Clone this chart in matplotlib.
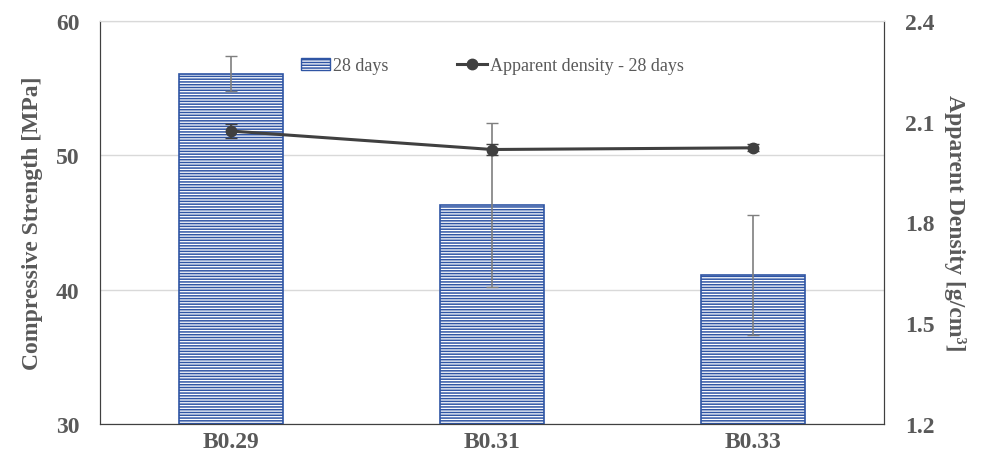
import matplotlib.pyplot as plt
from matplotlib.lines import Line2D
from matplotlib.patches import Patch

# Datos
mezclas = ['B0.29', 'B0.31', 'B0.33']
resistencia = [56.05, 46.3, 41.1]
err_resistencia = [1.3, 6.1, 4.45]
densidad = [2.072, 2.017, 2.022]
err_densidad = [0.02, 0.017, 0.01]

plt.rcParams['font.family'] = ['Liberation Serif', 'DejaVu Serif']
plt.rcParams['hatch.linewidth'] = 1.1
gris = '#595959'
azul = '#2F55A4'
tam = 17

fig, ax1 = plt.subplots(figsize=(9.82, 4.64), dpi=100)
fig.subplots_adjust(left=0.102, right=0.9, top=0.953, bottom=0.084)

x = range(len(mezclas))
ax1.bar(x, resistencia, width=0.4, color='white', edgecolor=azul,
        hatch='------', linewidth=1.2, zorder=2)
ax1.errorbar(x, resistencia, yerr=err_resistencia, fmt='none',
             ecolor='#7f7f7f', elinewidth=1.2, capsize=4, zorder=3)
ax1.set_ylim(30, 60)
ax1.set_yticks([30, 40, 50, 60])
ax1.set_xlim(-0.5, 2.5)
ax1.set_xticks(list(x))
ax1.set_xticklabels(mezclas)
ax1.grid(axis='y', color='#d9d9d9', linewidth=1.0, zorder=0)
ax1.set_axisbelow(True)
ax1.set_ylabel('Compressive Strength [MPa]', fontsize=tam, fontweight='bold',
               color=gris, labelpad=9)
ax1.tick_params(axis='y', length=0, labelsize=tam, labelcolor=gris, pad=15)
ax1.tick_params(axis='x', length=0, labelsize=tam, labelcolor=gris, pad=5)
for lbl in ax1.get_xticklabels() + ax1.get_yticklabels():
    lbl.set_fontweight('bold')

ax2 = ax1.twinx()
ax2.errorbar(x, densidad, yerr=err_densidad, color='#404040', marker='o',
             markersize=7.5, linewidth=2.2, ecolor='#404040', elinewidth=1.2,
             capsize=4, zorder=4)
ax2.set_ylim(1.2, 2.4)
ax2.set_yticks([1.2, 1.5, 1.8, 2.1, 2.4])
ax2.set_ylabel('Apparent Density [g/cm³]', fontsize=tam,
               fontweight='bold', color=gris, rotation=270, labelpad=23)
ax2.tick_params(axis='y', length=0, labelsize=tam, labelcolor=gris, pad=15)
for lbl in ax2.get_yticklabels():
    lbl.set_fontweight('bold')

for ax in (ax1, ax2):
    ax.spines['top'].set_color('#d9d9d9')
    ax.spines['left'].set_color('#404040')
    ax.spines['right'].set_color('#404040')
    ax.spines['bottom'].set_color('#404040')

handles = [Patch(facecolor='white', edgecolor=azul, hatch='------'),
           Line2D([0], [0], color='#404040', marker='o', markersize=7.5, linewidth=2.2)]
ax2.legend(handles, ['28 days', 'Apparent density - 28 days'], ncol=2,
           loc='center', bbox_to_anchor=(0.5, 0.888), frameon=False,
           fontsize=13, labelcolor=gris, columnspacing=3.8, handlelength=1.65,
           handletextpad=0.15)

plt.savefig('out.png')
